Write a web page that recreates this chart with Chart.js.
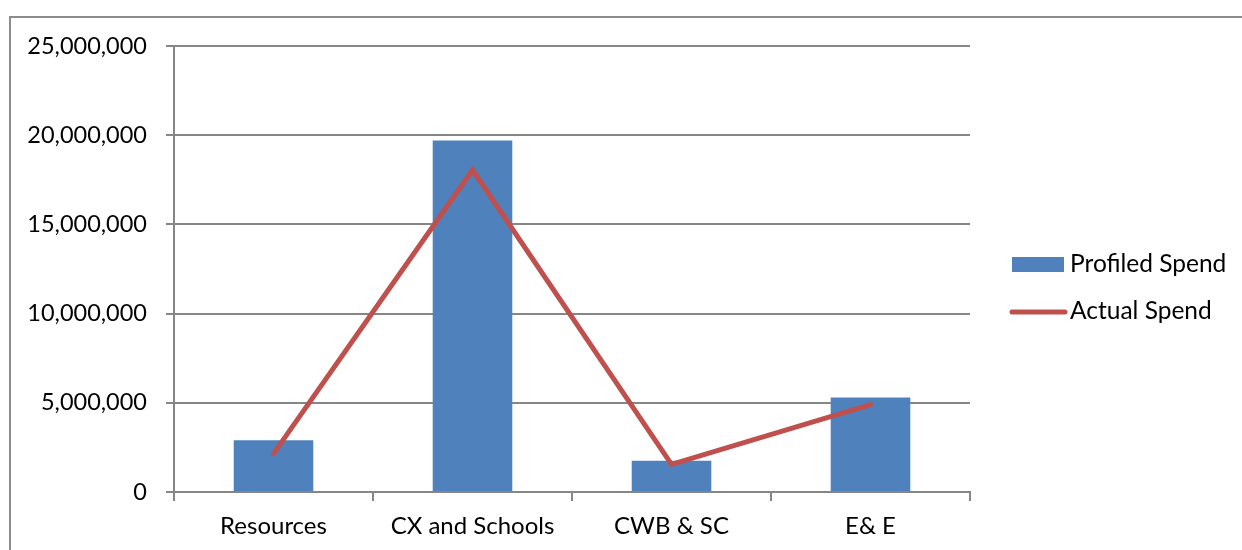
<!DOCTYPE html>
<html>
<head>
<meta charset="utf-8">
<script src="https://cdn.jsdelivr.net/npm/chart.js@4"></script>
<style>
  html, body { margin: 0; padding: 0; background: #fff; }
  #wrap { width: 1242px; height: 550px; position: relative; }
</style>
</head>
<body>
<div id="wrap"><canvas id="myChart" width="1242" height="550"></canvas></div>
<script>
// chart data
const categories = ['Resources', 'CX and Schools', 'CWB & SC', 'E& E'];
const profiledSpend = [2900000, 19700000, 1750000, 5300000];
const actualSpend = [2150000, 18050000, 1550000, 4900000];
const yTicks = [0, 5000000, 10000000, 15000000, 20000000, 25000000];

const FONT = 'Lato, "Liberation Sans", sans-serif';
const GRID = '#868686';
const BLUE = '#4F81BD';
const RED = '#C0504D';

// outer frame + right-hand legend
const framePlugin = {
  id: 'frame',
  afterDraw(chart) {
    const ctx = chart.ctx;
    ctx.save();
    ctx.strokeStyle = '#8c8c8c';
    ctx.lineWidth = 2;
    ctx.beginPath();
    ctx.moveTo(10, 560);
    ctx.lineTo(10, 17);
    ctx.lineTo(1250, 17);
    ctx.stroke();

    // legend
    ctx.fillStyle = BLUE;
    ctx.fillRect(1012, 257, 52, 15);
    ctx.strokeStyle = RED;
    ctx.lineWidth = 5;
    ctx.lineCap = 'round';
    ctx.beginPath();
    ctx.moveTo(1012, 312);
    ctx.lineTo(1065, 312);
    ctx.stroke();
    ctx.fillStyle = '#000';
    ctx.font = '24.5px ' + FONT;
    ctx.textBaseline = 'middle';
    ctx.fillText('Profiled Spend', 1070, 264);
    ctx.fillText('Actual Spend', 1070, 311);
    ctx.restore();
  }
};

new Chart(document.getElementById('myChart'), {
  data: {
    labels: categories,
    datasets: [
      {
        type: 'line',
        label: 'Actual Spend',
        data: actualSpend,
        borderColor: RED,
        backgroundColor: RED,
        borderWidth: 5,
        pointRadius: 0,
        tension: 0,
        borderCapStyle: 'round',
        order: 0
      },
      {
        type: 'bar',
        label: 'Profiled Spend',
        data: profiledSpend,
        backgroundColor: BLUE,
        categoryPercentage: 1,
        barPercentage: 0.4,
        order: 1
      }
    ]
  },
  options: {
    responsive: false,
    animation: false,
    layout: { padding: { left: 0, top: 46, right: 272, bottom: 0 } },
    plugins: {
      legend: { display: false },
      tooltip: { enabled: false }
    },
    scales: {
      x: {
        offset: true,
        grid: {
          offset: true,
          drawOnChartArea: false,
          drawTicks: true,
          tickLength: 9,
          color: GRID,
          lineWidth: 2
        },
        border: { color: GRID, width: 2 },
        ticks: {
          color: '#000',
          font: { family: FONT, size: 24 },
          padding: 11
        },
        afterFit(scale) { scale.height = 58; }
      },
      y: {
        min: 0,
        max: 25000000,
        afterBuildTicks(scale) { scale.ticks = yTicks.map(v => ({ value: v })); },
        grid: {
          color: GRID,
          lineWidth: 2,
          tickLength: 8
        },
        border: { color: GRID, width: 2 },
        ticks: {
          color: '#000',
          font: { family: FONT, size: 23.5 },
          padding: 19,
          callback: v => v.toLocaleString('en-US')
        },
        afterFit(scale) { scale.width = 174; }
      }
    }
  },
  plugins: [framePlugin]
});
</script>
</body>
</html>
